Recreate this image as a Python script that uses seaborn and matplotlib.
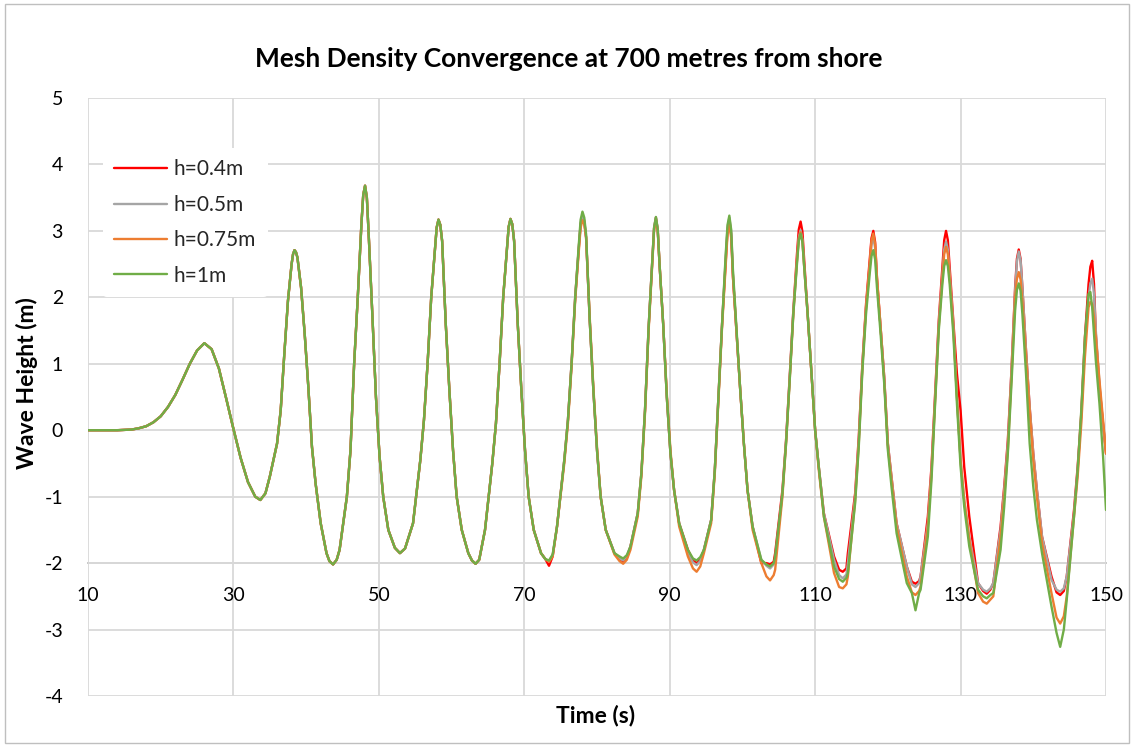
import matplotlib
matplotlib.use("Agg")
import matplotlib.pyplot as plt
from matplotlib.lines import Line2D
from matplotlib.patches import Rectangle
import pandas as pd
import seaborn as sns

# Early record, identical for every mesh size: time (s) and wave height (m)
time_head = [
    10, 12, 14, 16, 17, 18, 19, 20, 21, 22, 23, 24, 25, 26, 27, 28, 29, 30, 31, 32, 33,
    33.7, 34.4, 35, 35.5, 36, 36.5, 37, 37.5, 38, 38.2, 38.4, 38.6, 38.8,
    39.3, 39.8, 40.3, 40.8, 41.3, 42, 42.8, 43.2, 43.7, 44.2,
    44.6, 45.6, 46.1, 46.6, 47.1, 47.6, 47.85, 48.1, 48.35, 48.6, 49.1, 49.6, 50.1, 50.6, 51.3, 52.2, 52.9, 53.6,
    54.7, 55.7, 56.2, 56.7, 57.2, 57.7, 57.95, 58.2, 58.45, 58.7, 59.2, 59.7, 60.2, 60.7, 61.4, 62.3, 62.8, 63.3, 63.8,
    64.6, 65.6, 66.1, 66.6, 67.1, 67.6, 67.85, 68.1, 68.35, 68.6, 69.1, 69.6, 70.1, 70.6, 71.3, 72.3, 72.9,
]
height_head = [
    0, 0, 0, 0.01, 0.03, 0.06, 0.12, 0.21, 0.35, 0.53, 0.76, 1.0, 1.2, 1.31, 1.22, 0.93, 0.48, 0.02, -0.42, -0.78, -1.0,
    -1.05, -0.95, -0.7, -0.45, -0.2, 0.3, 1.15, 1.95, 2.5, 2.65, 2.71, 2.68, 2.6,
    2.15, 1.45, 0.65, -0.25, -0.8, -1.4, -1.85, -1.97, -2.02, -1.95,
    -1.8, -1.0, -0.3, 1.0, 2.0, 3.1, 3.54, 3.68, 3.5, 2.95, 1.75, 0.5, -0.4, -1.0, -1.5, -1.77, -1.85, -1.78,
    -1.4, -0.45, 0.15, 1.0, 2.0, 2.7, 3.05, 3.17, 3.09, 2.85, 1.6, 0.6, -0.3, -1.0, -1.5, -1.85, -1.96, -2.01, -1.95,
    -1.5, -0.5, 0.1, 1.0, 2.0, 2.7, 3.06, 3.18, 3.1, 2.85, 1.6, 0.6, -0.3, -1.0, -1.5, -1.85, -1.94,
]

# Later record, where the mesh sizes start to differ
time_tail = [
    73.4, 73.9,
    74.5, 75.5, 76.0, 76.5, 77.0, 77.5, 77.75, 78.0, 78.25, 78.5, 79.0, 79.5, 80.0, 80.5, 81.2, 82.4, 83.1, 83.6, 84.1,
    84.6, 85.6, 86.1, 86.6, 87.1, 87.6, 87.85, 88.1, 88.35, 88.6, 89.1, 89.6, 90.1, 90.6, 91.3, 92.5, 93.2, 93.7, 94.2,
    94.7, 95.7, 96.2, 96.7, 97.2, 97.7, 97.95, 98.2, 98.45, 98.7, 99.2, 99.7, 100.2, 100.7, 101.4, 102.6, 103.3, 103.8, 104.3,
    104.5, 105.5, 106.0, 106.5, 107.0, 107.5, 107.75, 108.0, 108.25, 108.5, 109.0, 109.5, 110.0, 110.5, 111.2, 112.6, 113.3, 113.8, 114.3,
    114.5, 115.5, 116.0, 116.5, 117.0, 117.5, 117.75, 118.0, 118.25, 118.5, 119.0, 119.5, 120.0, 120.5, 121.2, 122.6, 123.3, 123.8, 124.3,
    124.5, 125.5, 126.0, 126.5, 127.0, 127.5, 127.75, 128.0, 128.25, 128.5, 129.0, 129.5, 130.0, 130.5, 131.2, 132.4, 133.1, 133.6, 134.1,
    134.5, 135.5, 136.0, 136.5, 137.0, 137.5, 137.75, 138.0, 138.25, 138.5, 139.0, 139.5, 140.0, 140.5, 141.2, 142.5, 143.2, 143.7, 144.2,
    144.6, 145.6, 146.1, 146.6, 147.1, 147.6, 147.85, 148.1, 148.35, 148.6, 149.1, 149.6, 150.0,
]

h04_tail = [
    -2.04, -1.9,
    -1.45, -0.45, 0.15, 1.0, 2.0, 2.75, 3.1, 3.22, 3.14, 2.9, 1.65, 0.6, -0.3, -1.0, -1.5, -1.85, -1.94, -1.98, -1.92,
    -1.75, -1.25, -0.65, 0.3, 1.55, 2.55, 3.04, 3.2, 3.02, 2.5, 1.6, 0.5, -0.35, -0.9, -1.4, -1.8, -1.96, -2.0, -1.95,
    -1.8, -1.35, -0.6, 0.5, 1.6, 2.55, 3.01, 3.16, 2.95, 2.3, 1.45, 0.6, -0.2, -0.9, -1.45, -2.0, -2.0, -2.02, -1.98,
    -1.85, -0.9, -0.15, 0.8, 1.8, 2.65, 3.02, 3.14, 2.99, 2.55, 1.7, 0.85, 0.0, -0.55, -1.25, -1.9, -2.1, -2.13, -2.08,
    -1.85, -0.95, -0.1, 1.0, 1.9, 2.55, 2.89, 3.0, 2.83, 2.3, 1.55, 0.8, -0.2, -0.7, -1.4, -2.05, -2.28, -2.31, -2.27,
    -2.2, -1.3, -0.55, 0.55, 1.65, 2.45, 2.86, 3.0, 2.86, 2.45, 1.65, 0.85, 0.3, -0.55, -1.3, -2.3, -2.42, -2.46, -2.4,
    -2.3, -1.45, -0.85, -0.15, 0.9, 2.15, 2.58, 2.72, 2.58, 2.15, 1.2, 0.35, -0.35, -0.9, -1.6, -2.2, -2.44, -2.48, -2.42,
    -2.2, -1.2, -0.55, 0.25, 1.4, 2.2, 2.46, 2.55, 2.2, 1.45, 0.65, 0.1, -0.35,
]
h05_tail = [
    -1.97, -1.88,
    -1.45, -0.45, 0.15, 1.0, 2.0, 2.75, 3.12, 3.24, 3.16, 2.9, 1.65, 0.6, -0.3, -1.0, -1.5, -1.85, -1.93, -1.96, -1.9,
    -1.75, -1.25, -0.65, 0.3, 1.55, 2.55, 3.04, 3.2, 3.02, 2.5, 1.6, 0.5, -0.35, -0.9, -1.4, -1.85, -1.99, -2.03, -1.97,
    -1.8, -1.35, -0.6, 0.5, 1.6, 2.6, 3.05, 3.2, 2.99, 2.35, 1.45, 0.6, -0.2, -0.9, -1.45, -1.95, -2.04, -2.08, -2.02,
    -1.95, -0.95, -0.15, 0.8, 1.8, 2.55, 2.9, 3.01, 2.87, 2.45, 1.7, 0.85, 0.0, -0.55, -1.25, -1.95, -2.18, -2.23, -2.17,
    -2.0, -1.0, -0.15, 1.0, 1.85, 2.45, 2.79, 2.9, 2.74, 2.25, 1.55, 0.8, -0.2, -0.7, -1.4, -2.05, -2.32, -2.36, -2.3,
    -2.2, -1.4, -0.6, 0.5, 1.6, 2.35, 2.72, 2.84, 2.72, 2.35, 1.6, 0.5, -0.45, -1.05, -1.6, -2.3, -2.4, -2.43, -2.38,
    -2.3, -1.5, -0.9, -0.2, 0.9, 2.1, 2.54, 2.69, 2.56, 2.15, 1.2, 0.35, -0.35, -0.9, -1.6, -2.25, -2.4, -2.43, -2.38,
    -2.2, -1.25, -0.6, 0.2, 1.3, 2.0, 2.21, 2.28, 2.05, 1.5, 0.7, 0.05, -0.3,
]
h075_tail = [
    -1.98, -1.9,
    -1.45, -0.5, 0.1, 0.95, 1.95, 2.7, 3.05, 3.16, 3.1, 2.9, 1.7, 0.65, -0.25, -1.0, -1.5, -1.87, -1.97, -2.01, -1.95,
    -1.8, -1.3, -0.7, 0.25, 1.5, 2.5, 3.0, 3.17, 3.0, 2.5, 1.6, 0.55, -0.3, -0.9, -1.45, -1.9, -2.08, -2.13, -2.05,
    -1.85, -1.4, -0.65, 0.45, 1.55, 2.5, 2.95, 3.1, 2.9, 2.3, 1.45, 0.6, -0.2, -0.9, -1.5, -2.0, -2.2, -2.26, -2.18,
    -2.1, -1.0, -0.2, 0.75, 1.75, 2.55, 2.87, 2.98, 2.85, 2.45, 1.7, 0.85, 0.0, -0.6, -1.3, -2.15, -2.36, -2.38, -2.32,
    -2.2, -1.05, -0.2, 0.95, 1.85, 2.5, 2.85, 2.96, 2.8, 2.3, 1.55, 0.75, -0.25, -0.75, -1.45, -2.2, -2.44, -2.48, -2.42,
    -2.35, -1.45, -0.65, 0.45, 1.55, 2.3, 2.65, 2.76, 2.65, 2.3, 1.55, 0.5, -0.45, -1.05, -1.65, -2.45, -2.58, -2.61, -2.55,
    -2.5, -1.6, -1.0, -0.3, 0.8, 2.0, 2.28, 2.38, 2.27, 1.95, 1.1, 0.3, -0.45, -1.0, -1.7, -2.45, -2.82, -2.91, -2.8,
    -2.5, -1.3, -0.7, 0.1, 1.1, 1.85, 1.93, 1.9, 1.7, 1.4, 0.75, 0.15, -0.35,
]
h1_tail = [
    -1.96, -1.87,
    -1.45, -0.45, 0.15, 1.0, 2.0, 2.8, 3.17, 3.29, 3.2, 2.95, 1.65, 0.6, -0.3, -1.0, -1.5, -1.85, -1.9, -1.93, -1.88,
    -1.75, -1.25, -0.65, 0.3, 1.55, 2.55, 3.05, 3.21, 3.03, 2.5, 1.6, 0.5, -0.35, -0.9, -1.4, -1.8, -1.93, -1.96, -1.91,
    -1.8, -1.35, -0.6, 0.5, 1.6, 2.65, 3.09, 3.23, 3.02, 2.4, 1.5, 0.6, -0.2, -0.9, -1.45, -1.95, -2.02, -2.05, -2.0,
    -1.9, -0.95, -0.2, 0.75, 1.75, 2.5, 2.85, 2.96, 2.83, 2.45, 1.7, 0.85, 0.0, -0.55, -1.3, -2.05, -2.24, -2.28, -2.22,
    -2.15, -1.1, -0.25, 0.9, 1.75, 2.35, 2.62, 2.71, 2.57, 2.15, 1.45, 0.7, -0.3, -0.85, -1.55, -2.3, -2.45, -2.71, -2.45,
    -2.4, -1.6, -0.75, 0.4, 1.5, 2.2, 2.47, 2.56, 2.47, 2.2, 1.45, 0.4, -0.55, -1.15, -1.75, -2.4, -2.5, -2.53, -2.48,
    -2.45, -1.8, -1.15, -0.35, 0.7, 1.8, 2.11, 2.21, 2.1, 1.75, 0.85, -0.2, -0.85, -1.35, -1.85, -2.65, -3.05, -3.26, -3.0,
    -2.55, -1.3, -0.6, 0.3, 1.4, 2.05, 2.08, 1.85, 1.45, 1.05, 0.4, -0.4, -1.2,
]

series_labels = ["h=0.4m", "h=0.5m", "h=0.75m", "h=1m"]
series_tails = [h04_tail, h05_tail, h075_tail, h1_tail]
series_colors = ["#ff0000", "#a5a5a5", "#ed7d31", "#70ad47"]

x_ticks = [10, 30, 50, 70, 90, 110, 130, 150]
y_ticks = [-4, -3, -2, -1, 0, 1, 2, 3, 4, 5]

title_text = "Mesh Density Convergence at 700 metres from shore"
x_title = "Time (s)"
y_title = "Wave Height (m)"

# long-form table, one block per mesh size
frames = []
for label, tail in zip(series_labels, series_tails):
    frames.append(pd.DataFrame({
        "Time": time_head + time_tail,
        "Height": height_head + tail,
        "Mesh": label,
    }))
df = pd.concat(frames, ignore_index=True)

sns.set_theme(style="white")
plt.rcParams["font.family"] = ["Lato", "DejaVu Sans"]
plt.rcParams["axes.unicode_minus"] = False

W, H = 1134, 746
fig = plt.figure(figsize=(W / 100, H / 100), dpi=100)
ax = fig.add_axes([88 / W, 1 - 696 / H, (1106 - 88) / W, (696 - 98) / H])

palette = dict(zip(series_labels, series_colors))
sns.lineplot(data=df, x="Time", y="Height", hue="Mesh", hue_order=series_labels,
             palette=palette, linewidth=1.7, estimator=None, sort=False, ax=ax,
             legend=False)

ax.set_xlim(10, 150)
ax.set_ylim(-4, 5)
ax.set_xticks(x_ticks)
ax.set_yticks(y_ticks)
ax.set_xticklabels([str(v) for v in x_ticks])
ax.set_yticklabels([str(v) for v in y_ticks])
ax.set_xlabel("")
ax.set_ylabel("")

ax.grid(True, color="#d9d9d9", linewidth=1.3)
ax.set_axisbelow(True)
for side in ["top", "right", "left"]:
    ax.spines[side].set_visible(False)
# horizontal axis crosses the value axis at -2
ax.spines["bottom"].set_position(("data", -2))
ax.spines["bottom"].set_color("#bfbfbf")
ax.spines["bottom"].set_linewidth(1.3)
ax.spines["bottom"].set_zorder(0.5)

ax.tick_params(axis="x", length=0, pad=17, labelsize=14, colors="#000000")
ax.tick_params(axis="y", length=0, pad=18, labelsize=14, colors="#000000")

handles = [Line2D([0], [0], color=c, linewidth=1.7) for c in series_colors]
leg = ax.legend(handles, series_labels, loc="upper left",
                bbox_to_anchor=(0.0147, 0.9164), borderaxespad=0,
                frameon=True, facecolor="white", edgecolor="none", framealpha=1,
                fontsize=15, handlelength=2.5, handletextpad=0.35,
                labelspacing=0.74, borderpad=0.55)
leg.get_frame().set_linewidth(0)

fig.text(569 / W, 1 - 59 / H, title_text, ha="center", va="center",
         fontsize=19, fontweight="bold", color="#000000")
fig.text(596 / W, 1 - 716 / H, x_title, ha="center", va="center",
         fontsize=16.5, fontweight="bold", color="#000000")
fig.text(27 / W, 1 - 383 / H, y_title, ha="center", va="center", rotation=90,
         fontsize=16.5, fontweight="bold", color="#000000")

# chart-area border
fig.patches.append(Rectangle((5 / W, 3 / H), 1124 / W, 739 / H, transform=fig.transFigure,
                             fill=False, edgecolor="#bfbfbf", linewidth=1.0))

fig.savefig("out.png", dpi=100)
